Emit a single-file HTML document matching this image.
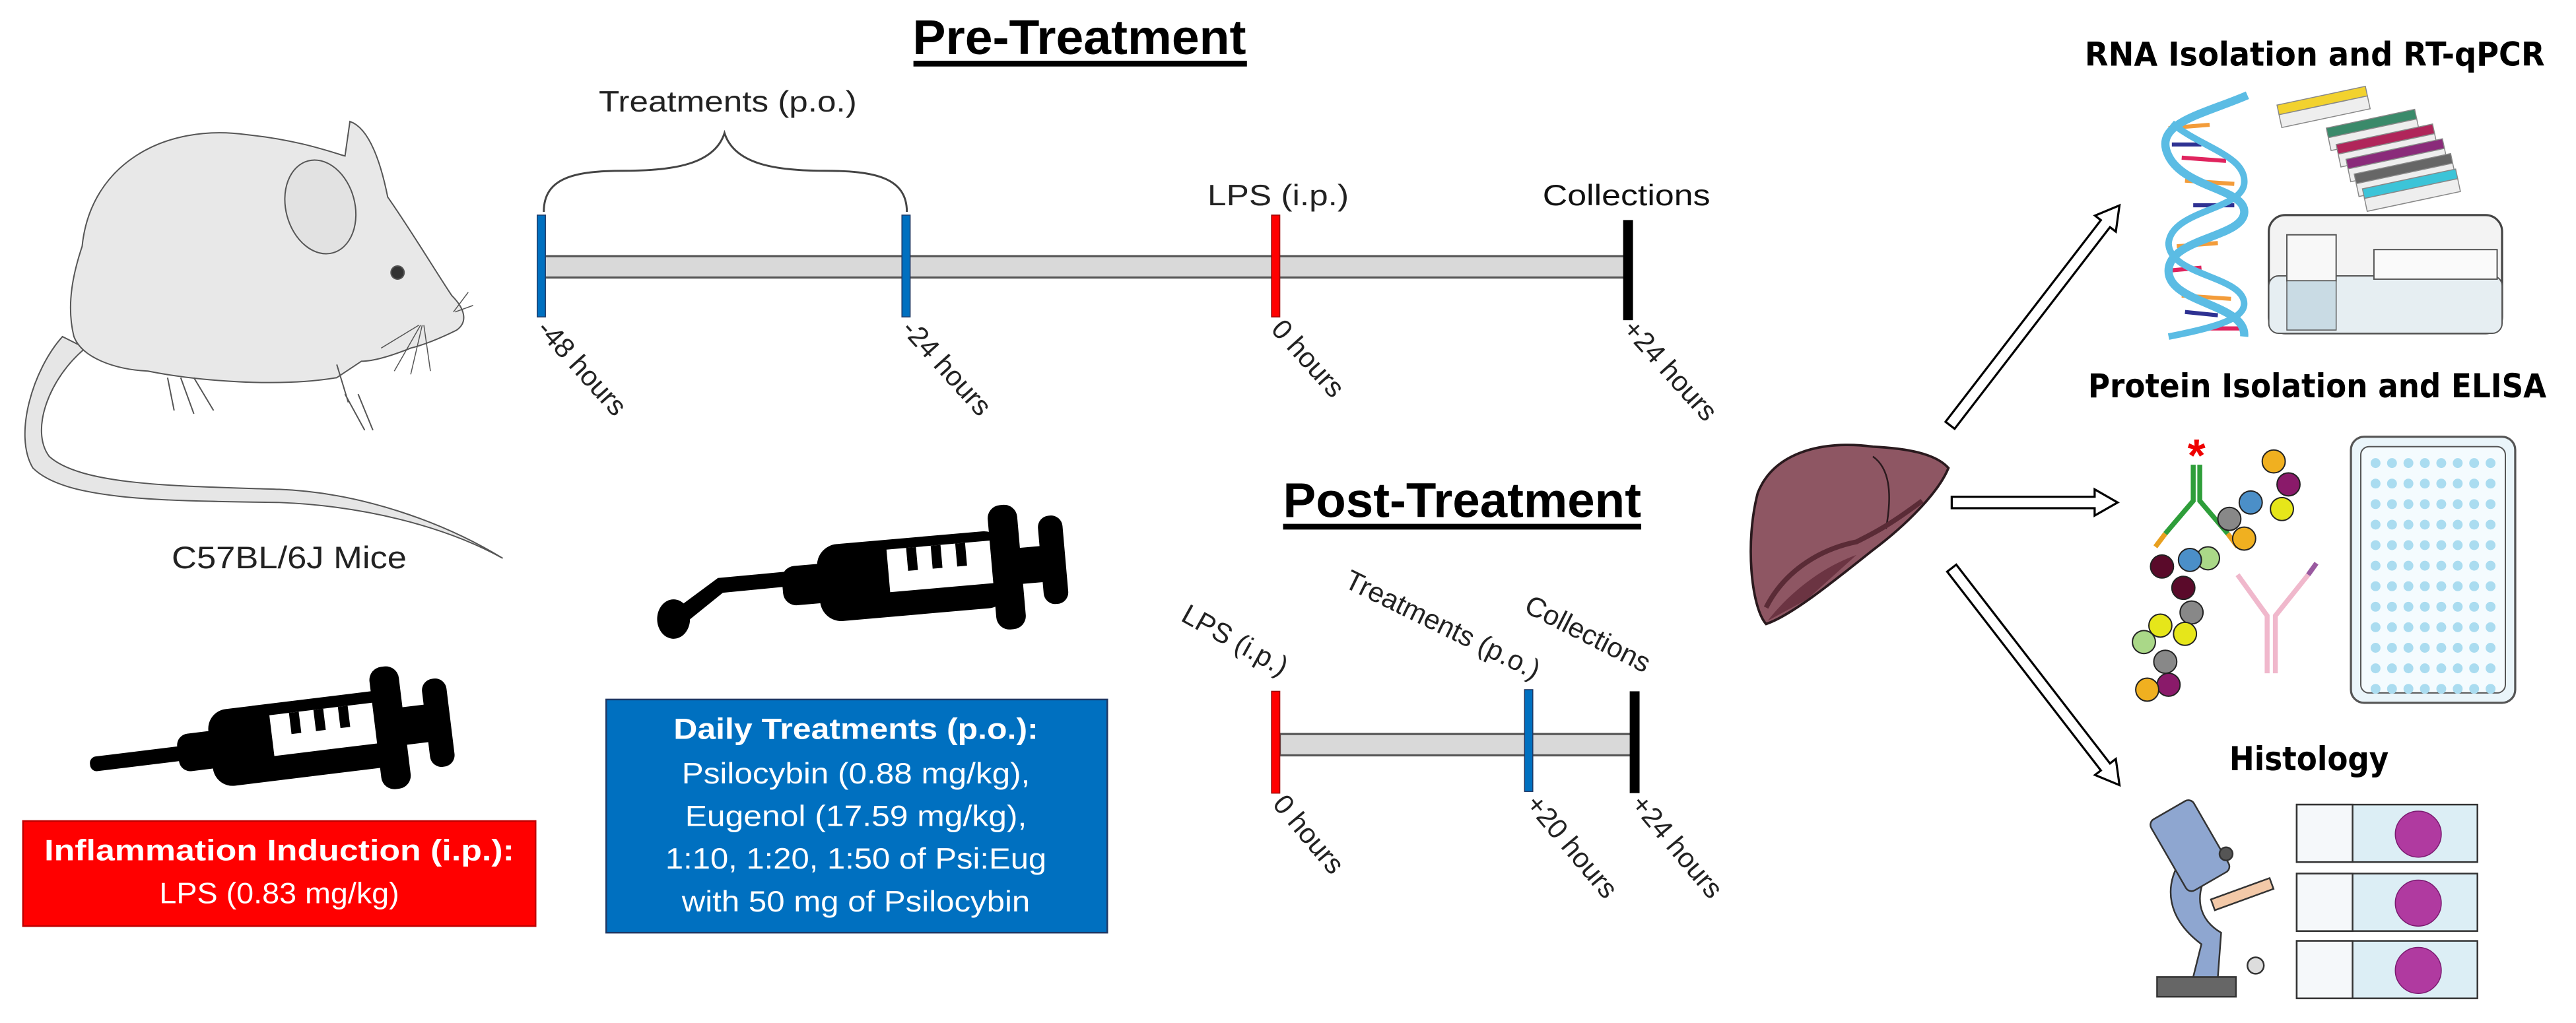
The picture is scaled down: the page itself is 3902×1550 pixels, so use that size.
<!DOCTYPE html>
<html><head><meta charset="utf-8"><style>
html,body{margin:0;padding:0;background:#fff}
svg{display:block}
text{font-family:"Liberation Sans",Arial,sans-serif}
.b{font-family:"DejaVu Sans","Liberation Sans",sans-serif;font-weight:bold}
</style></head><body>
<svg width="3902" height="1550" viewBox="0 0 1568 623" preserveAspectRatio="none" xmlns="http://www.w3.org/2000/svg">
<defs><g id="row"><circle cx="1446" cy="282" r="3"/><circle cx="1456" cy="282" r="3"/><circle cx="1466" cy="282" r="3"/><circle cx="1476" cy="282" r="3"/><circle cx="1486" cy="282" r="3"/><circle cx="1496" cy="282" r="3"/><circle cx="1506" cy="282" r="3"/><circle cx="1516" cy="282" r="3"/></g></defs>
<rect width="1568" height="623" fill="#fff"/>

<!-- Mouse -->
<g stroke="#555" stroke-width="0.8">
<path d="M38,205 C20,225 8,265 20,285 C40,305 100,305 170,306 C220,308 270,320 306,340 C270,318 220,300 170,298 C110,296 50,296 30,278 C18,262 30,230 52,212 Z" fill="#e6e6e6"/>
<path d="M50,150 C55,100 100,75 150,82 C180,85 200,92 210,95 L213,74 C225,78 232,100 236,120 C250,140 265,165 275,180 C283,188 285,196 278,201 C268,206 258,210 250,212 C240,216 228,220 220,220 L205,230 C170,236 120,232 90,226 C70,225 50,218 45,205 C40,185 45,165 50,150 Z" fill="#e8e8e8"/>
<ellipse cx="195" cy="126" rx="21" ry="29" fill="#e2e2e2" transform="rotate(-15 195 126)"/>
<ellipse cx="242" cy="166" rx="4" ry="4" fill="#333"/>
<path d="M102,230 L106,250 M110,230 L118,252 M118,230 L130,250 M205,222 L212,245 M210,240 L222,262 M218,240 L227,262" fill="none"/>
<path d="M255,198 L232,212 M256,198 L240,226 M257,198 L250,228 M258,198 L262,226 M276,190 L285,178 M277,190 L288,186" fill="none" stroke-width="0.6"/>
</g>
<text x="176" y="346" font-size="19" text-anchor="middle" fill="#222" textLength="143" lengthAdjust="spacingAndGlyphs">C57BL/6J Mice</text>

<!-- Syringe 1 -->
<g transform="rotate(-7 170 452)" fill="#000">
<rect x="54" y="447" width="62" height="9" rx="4"/>
<rect x="108" y="440" width="28" height="23" rx="7"/>
<rect x="128" y="428" width="113" height="47" rx="12"/>
<rect x="166" y="435" width="65" height="25" fill="#fff"/>
<rect x="178" y="435" width="6" height="13"/><rect x="193" y="435" width="6" height="13"/><rect x="208" y="435" width="6" height="13"/>
<rect x="229" y="414" width="18" height="75" rx="8"/>
<rect x="245" y="440" width="16" height="23"/>
<rect x="260" y="425" width="15" height="54" rx="7"/>
</g>

<!-- Syringe 2 -->
<g fill="#000">
<ellipse cx="410" cy="377" rx="10" ry="12"/>
<path d="M410,372 L437,352 L480,348 L481,357 L440,361 L414,382 Z"/>
<g transform="rotate(-5 560 350)">
<rect x="476" y="338" width="30" height="24" rx="8"/>
<rect x="498" y="327" width="115" height="47" rx="13"/>
<rect x="541" y="333" width="65" height="26" fill="#fff"/>
<rect x="553" y="333" width="6" height="14"/><rect x="568" y="333" width="6" height="14"/><rect x="583" y="333" width="6" height="14"/>
<rect x="604" y="312" width="18" height="76" rx="8"/>
<rect x="620" y="339" width="16" height="22"/>
<rect x="634" y="321" width="15" height="54" rx="7"/>
</g>
</g>

<!-- Red box -->
<rect x="14" y="500" width="312" height="64" fill="#ff0000" stroke="#c00000" stroke-width="1"/>
<text x="170" y="524" font-size="18" font-weight="bold" fill="#fff" text-anchor="middle" textLength="286" lengthAdjust="spacingAndGlyphs">Inflammation Induction (i.p.):</text>
<text x="170" y="550" font-size="18" fill="#fff" text-anchor="middle" textLength="146" lengthAdjust="spacingAndGlyphs">LPS (0.83 mg/kg)</text>

<!-- Blue box -->
<rect x="369" y="426" width="305" height="142" fill="#0070c0" stroke="#1f3864" stroke-width="1"/>
<g fill="#fff" font-size="18" text-anchor="middle">
<text x="521" y="450" font-weight="bold" textLength="222" lengthAdjust="spacingAndGlyphs">Daily Treatments (p.o.):</text>
<text x="521" y="477" textLength="212" lengthAdjust="spacingAndGlyphs">Psilocybin (0.88 mg/kg),</text>
<text x="521" y="503" textLength="208" lengthAdjust="spacingAndGlyphs">Eugenol (17.59 mg/kg),</text>
<text x="521" y="529" textLength="232" lengthAdjust="spacingAndGlyphs">1:10, 1:20, 1:50 of Psi:Eug</text>
<text x="521" y="555" textLength="212" lengthAdjust="spacingAndGlyphs">with 50 mg of Psilocybin</text>
</g>

<!-- Pre-treatment -->
<text x="657" y="33" font-size="30" font-weight="bold" text-anchor="middle" textLength="203" lengthAdjust="spacingAndGlyphs">Pre-Treatment</text>
<rect x="556" y="37" width="203" height="3.5" fill="#000"/>
<text x="443" y="68" font-size="18" text-anchor="middle" textLength="157" lengthAdjust="spacingAndGlyphs" fill="#222">Treatments (p.o.)</text>
<path d="M331,129 C331,108 350,104 380,104 C410,104 435,100 441,81 C447,100 472,104 502,104 C532,104 552,108 552,129" fill="none" stroke="#444" stroke-width="1.2"/>
<rect x="331" y="156" width="660" height="13" fill="#d9d9d9" stroke="#555" stroke-width="1.3"/>
<rect x="327" y="131" width="5" height="62" fill="#0070c0" stroke="#1f3864" stroke-width="0.6"/>
<rect x="549" y="131" width="5" height="62" fill="#0070c0" stroke="#1f3864" stroke-width="0.6"/>
<rect x="774" y="131" width="5" height="62" fill="#ff0000" stroke="#900" stroke-width="0.6"/>
<rect x="988" y="134" width="6" height="61" fill="#000"/>
<text x="778" y="125" font-size="18" text-anchor="middle" textLength="86" lengthAdjust="spacingAndGlyphs" fill="#222">LPS (i.p.)</text>
<text x="990" y="125" font-size="18" text-anchor="middle" textLength="102" lengthAdjust="spacingAndGlyphs" fill="#111">Collections</text>
<g font-size="17" fill="#222">
<text transform="translate(326,201) rotate(48)">-48 hours</text>
<text transform="translate(548,201) rotate(48)">-24 hours</text>
<text transform="translate(773,201) rotate(48)">0 hours</text>
<text transform="translate(987,201) rotate(48)">+24 hours</text>
</g>

<!-- Post-treatment -->
<text x="890" y="315" font-size="30" font-weight="bold" text-anchor="middle" textLength="218" lengthAdjust="spacingAndGlyphs">Post-Treatment</text>
<rect x="781" y="319" width="218" height="3.5" fill="#000"/>
<rect x="779" y="447" width="216" height="13" fill="#d9d9d9" stroke="#555" stroke-width="1.3"/>
<rect x="774" y="421" width="5" height="62" fill="#ff0000" stroke="#900" stroke-width="0.6"/>
<rect x="928" y="420" width="5" height="62" fill="#0070c0" stroke="#1f3864" stroke-width="0.6"/>
<rect x="992" y="421" width="6" height="62" fill="#000"/>
<g font-size="17" fill="#222">
<text transform="translate(780,412) rotate(29)" text-anchor="end">LPS (i.p.)</text>
<text transform="translate(934,414) rotate(26)" text-anchor="end">Treatments (p.o.)</text>
<text transform="translate(1001,410) rotate(27)" text-anchor="end">Collections</text>
<text transform="translate(774,490) rotate(50)">0 hours</text>
<text transform="translate(928,490) rotate(50)">+20 hours</text>
<text transform="translate(992,490) rotate(50)">+24 hours</text>
</g>

<!-- Liver -->
<path d="M1070,300 C1080,275 1110,268 1140,272 C1160,273 1178,276 1186,285 C1180,300 1160,320 1140,335 C1115,355 1090,375 1075,380 C1066,370 1062,330 1070,300 Z" fill="#8e5663" stroke="#2a1a1e" stroke-width="1.5"/>
<path d="M1140,278 C1150,285 1152,300 1148,322" fill="none" stroke="#2a1a1e" stroke-width="1"/>
<path d="M1075,370 C1085,350 1105,335 1130,330 C1140,325 1150,320 1170,305" fill="none" stroke="#5a2b36" stroke-width="3"/>
<path d="M1076,378 C1090,360 1110,345 1130,338 L1100,365 Z" fill="#6b3442"/>

<!-- Arrows -->
<g fill="#fff" stroke="#000" stroke-width="1.3">
<polygon transform="translate(1187,259) rotate(-52.4)" points="0,-3.5 155,-3.5 155,-8 169,0 155,8 155,3.5 0,3.5"/>
<polygon transform="translate(1188,306)" points="0,-3.5 87,-3.5 87,-8 101,0 87,8 87,3.5 0,3.5"/>
<polygon transform="translate(1188,346) rotate(52.3)" points="0,-3.5 153,-3.5 153,-8 167,0 153,8 153,3.5 0,3.5"/>
</g>

<!-- Right titles -->
<text class="b" x="1269" y="40" font-size="20" textLength="280" lengthAdjust="spacingAndGlyphs">RNA Isolation and RT-qPCR</text>
<text class="b" x="1271" y="242" font-size="20" textLength="279" lengthAdjust="spacingAndGlyphs">Protein Isolation and ELISA</text>
<text class="b" x="1357" y="469" font-size="20" textLength="97" lengthAdjust="spacingAndGlyphs">Histology</text>

<!-- DNA -->
<g stroke-width="2.5">
<g stroke="#f39c3a"><line x1="1320" y1="78" x2="1345" y2="76"/><line x1="1330" y1="110" x2="1360" y2="112"/><line x1="1325" y1="150" x2="1350" y2="148"/><line x1="1328" y1="180" x2="1358" y2="182"/></g>
<g stroke="#e0245e"><line x1="1328" y1="96" x2="1355" y2="98"/><line x1="1318" y1="165" x2="1340" y2="163"/><line x1="1345" y1="200" x2="1366" y2="200"/></g>
<g stroke="#2e3192"><line x1="1322" y1="88" x2="1340" y2="88"/><line x1="1335" y1="125" x2="1360" y2="125"/><line x1="1330" y1="190" x2="1350" y2="192"/></g>
</g>
<path d="M1368,58 C1340,70 1310,75 1320,95 C1330,115 1368,115 1366,130 C1364,145 1320,145 1320,165 C1320,185 1368,185 1366,205" fill="none" stroke="#5bbce4" stroke-width="5"/>
<path d="M1322,75 C1340,90 1368,95 1366,112 C1364,128 1322,128 1320,148 C1320,168 1366,168 1366,185 C1366,195 1345,200 1320,205" fill="none" stroke="#5bbce4" stroke-width="4"/>

<!-- PCR strips -->
<g stroke="#888" stroke-width="0.6">
<g transform="translate(1386,64) rotate(-12)"><rect width="55" height="6" fill="#f2d22e"/><rect y="6" width="55" height="8" fill="#eee"/></g>
<g transform="translate(1416,78) rotate(-12)"><rect width="55" height="6" fill="#3a8a6a"/><rect y="6" width="55" height="8" fill="#eee"/></g>
<g transform="translate(1422,88) rotate(-12)"><rect width="60" height="6" fill="#b0255a"/><rect y="6" width="60" height="8" fill="#eee"/></g>
<g transform="translate(1428,97) rotate(-12)"><rect width="60" height="6" fill="#8a2b7a"/><rect y="6" width="60" height="8" fill="#eee"/></g>
<g transform="translate(1433,106) rotate(-12)"><rect width="60" height="6" fill="#666"/><rect y="6" width="60" height="8" fill="#eee"/></g>
<g transform="translate(1438,115) rotate(-12)"><rect width="58" height="6" fill="#3cc4d8"/><rect y="6" width="58" height="8" fill="#eee"/></g>
</g>

<!-- Machine -->
<rect x="1381" y="131" width="142" height="72" rx="10" fill="#f3f3f3" stroke="#444" stroke-width="1.3"/>
<rect x="1381" y="168" width="142" height="35" rx="6" fill="#e6eef2" stroke="#555" stroke-width="0.8"/>
<rect x="1392" y="143" width="30" height="28" fill="#f8f8f8" stroke="#555" stroke-width="0.8"/>
<rect x="1445" y="152" width="75" height="18" fill="#fafafa" stroke="#555" stroke-width="0.8"/>
<rect x="1392" y="171" width="30" height="30" fill="#c9dbe4" stroke="#555" stroke-width="0.6"/>

<!-- ELISA beads & antibodies -->
<text x="1337" y="287" font-size="28" fill="#e00" text-anchor="middle" font-weight="bold">*</text>
<g fill="none" stroke-width="3">
<path d="M1335,283 L1335,305 L1318,325 M1339,283 L1339,305 L1356,325" stroke="#2e9e3a"/>
<path d="M1318,325 L1312,333 M1356,325 L1362,333" stroke="#e8a020"/>
<path d="M1380,410 L1380,375 L1362,350 M1385,410 L1385,375 L1405,350" stroke="#f0b8cc"/>
<path d="M1405,350 L1410,343" stroke="#9a5aa0"/>
</g>
<g stroke="#222" stroke-width="0.8">
<circle cx="1384" cy="281" r="7" fill="#f0b020"/><circle cx="1393" cy="295" r="7" fill="#8a1a6a"/>
<circle cx="1370" cy="306" r="7" fill="#4b8fc8"/><circle cx="1389" cy="310" r="7" fill="#e6e61a"/>
<circle cx="1357" cy="316" r="7" fill="#888"/><circle cx="1366" cy="328" r="7" fill="#f0b020"/>
<circle cx="1344" cy="340" r="7" fill="#aad888"/><circle cx="1333" cy="341" r="7" fill="#4b8fc8"/>
<circle cx="1316" cy="345" r="7" fill="#5a0a2a"/><circle cx="1329" cy="358" r="7" fill="#5a0a2a"/>
<circle cx="1334" cy="373" r="7" fill="#888"/><circle cx="1315" cy="381" r="7" fill="#e6e61a"/>
<circle cx="1330" cy="386" r="7" fill="#e6e61a"/><circle cx="1305" cy="391" r="7" fill="#aad888"/>
<circle cx="1318" cy="403" r="7" fill="#888"/><circle cx="1320" cy="417" r="7" fill="#8a1a6a"/>
<circle cx="1307" cy="420" r="7" fill="#f0b020"/>
</g>

<!-- Plate -->
<rect x="1431" y="266" width="100" height="162" rx="8" fill="#eaf5fa" stroke="#555" stroke-width="1.3"/>
<rect x="1437" y="272" width="88" height="150" rx="5" fill="#f4fbfe" stroke="#555" stroke-width="0.8"/>
<g fill="#aadcf0">
<use href="#row" y="0"/><use href="#row" y="12.5"/><use href="#row" y="25"/><use href="#row" y="37.5"/><use href="#row" y="50"/><use href="#row" y="62.5"/><use href="#row" y="75"/><use href="#row" y="87.5"/><use href="#row" y="100"/><use href="#row" y="112.5"/><use href="#row" y="125"/><use href="#row" y="137.5"/>
</g>

<!-- Microscope -->
<g stroke="#333" stroke-width="1">
<rect x="1313" y="595" width="48" height="12" fill="#666"/>
<path d="M1335,595 L1340,575 C1320,560 1315,540 1330,520 L1345,530 C1335,545 1338,560 1352,568 L1350,595 Z" fill="#8ea6d0"/>
<rect x="1318" y="490" width="30" height="50" rx="4" fill="#8ea6d0" transform="rotate(-30 1333 515)"/>
<rect x="1346" y="541" width="38" height="7" fill="#f3c9a8" transform="rotate(-20 1365 545)"/>
<circle cx="1355" cy="520" r="4" fill="#555"/>
<circle cx="1373" cy="588" r="5" fill="#ddd"/>
</g>
<!-- Slides -->
<g stroke="#333" stroke-width="1">
<rect x="1398" y="490" width="110" height="35" fill="#dceef5"/><rect x="1398" y="490" width="34" height="35" fill="#f5f8fa"/>
<rect x="1398" y="532" width="110" height="35" fill="#dceef5"/><rect x="1398" y="532" width="34" height="35" fill="#f5f8fa"/>
<rect x="1398" y="573" width="110" height="35" fill="#dceef5"/><rect x="1398" y="573" width="34" height="35" fill="#f5f8fa"/>
</g>
<g fill="#b03aa0" stroke="#7a1a70" stroke-width="0.6">
<circle cx="1472" cy="508" r="14"/><circle cx="1472" cy="550" r="14"/><circle cx="1472" cy="591" r="14"/>
</g>
</svg>
</body></html>
